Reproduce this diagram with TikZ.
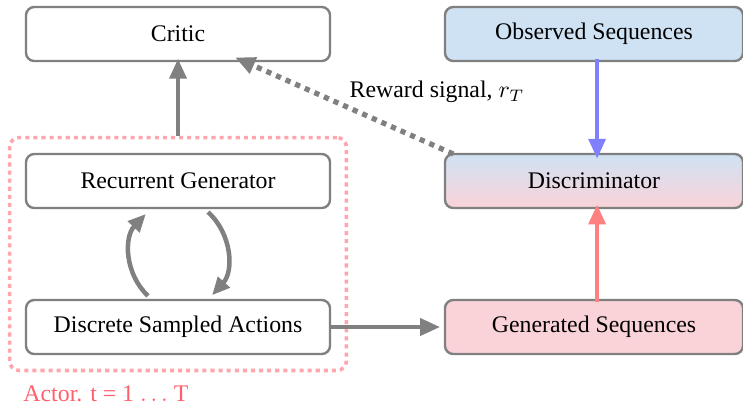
\documentclass[tikz,border=0pt]{standalone}
\usepackage{fontspec}
\setmainfont{Liberation Serif}
\usetikzlibrary{arrows.meta,fit}

\definecolor{boxgray}{RGB}{128,128,128}
\definecolor{obsblue}{RGB}{207,226,243}
\definecolor{genpink}{RGB}{250,211,216}
\definecolor{arrblue}{RGB}{128,128,255}
\definecolor{arrpink}{RGB}{255,128,128}
\definecolor{actorpink}{RGB}{255,165,172}
\definecolor{actortext}{RGB}{255,95,108}

\begin{document}
\begin{tikzpicture}[x=0.42pt,y=0.42pt,yscale=-1,xscale=1,
  blockbox/.style={draw=boxgray, line width=1pt, rounded corners=3.5pt,
    minimum width=127.7pt, minimum height=22.7pt, font=\normalsize},
  rightbox/.style={blockbox, minimum width=125.2pt},
  flowarrow/.style={line width=1.9pt, -{Triangle[length=8.4pt,width=7pt]}},
  loopflow/.style={draw=boxgray, line width=1.9pt, -{Triangle[length=7.5pt,width=6.5pt]}}]
%set diagram frame: width 743, height 404
\path[use as bounding box] (0,0) rectangle (743,404);

% Text Node
\node[blockbox] (critic) at (178,34) {Critic};
% Text Node
\node[blockbox] (recgen) at (178,181) {Recurrent Generator};
% Text Node
\node[blockbox] (actions) at (178,327) {Discrete Sampled Actions};
% Text Node
\node[rightbox, fill=obsblue] (observed) at (594,34) {Observed Sequences};
% Text Node
\node[rightbox, top color=obsblue, bottom color=genpink] (discr) at (594,181) {Discriminator};
% Text Node
\node[rightbox, fill=genpink] (generated) at (594,327) {Generated Sequences};

%Shape: Dotted actor frame
\node[draw=actorpink, line width=1.5pt, dash pattern=on 1.7pt off 1.7pt,
  rounded corners=4pt, inner sep=6.4pt, fit=(recgen)(actions)] (actor) {};
% Text Node
\node[anchor=north west, text=actortext, inner sep=0pt] (actorlbl) at (23,385) {Actor. t = 1 $\ldots$ T};
% Text Node
\node (reward) at (437,92) {Reward signal, $r_T$};

%Straight Lines
\draw[flowarrow, draw=boxgray] (actor.north) -- ([yshift=-1.5pt]critic.south);
\draw[flowarrow, draw=boxgray] (actions.east) -- ([xshift=-1.5pt]generated.west);
\draw[flowarrow, draw=arrblue] ([xshift=1.3pt,yshift=-1.5pt]observed.south) -- ([xshift=1.3pt,yshift=2.5pt]discr.north);
\draw[flowarrow, draw=arrpink] ([xshift=1.3pt,yshift=1.5pt]generated.north) -- ([xshift=1.3pt,yshift=-2pt]discr.south);
\draw[boxgray, line width=2.2pt, dash pattern=on 2.2pt off 2.2pt,
  -{Triangle[length=8.4pt,width=7pt]}] ([xshift=4pt,yshift=0.5pt]discr.north west) -- ([xshift=24pt,yshift=-2pt]critic.south);

%Curves
\draw[loopflow] ([xshift=-12.6pt,yshift=-1.2pt]actions.north) to[bend right=45] ([xshift=-13.5pt,yshift=2pt]recgen.south);
\draw[loopflow] ([xshift=12.6pt,yshift=1.2pt]recgen.south) to[bend right=45] ([xshift=14.3pt,yshift=-1.5pt]actions.north);

\end{tikzpicture}
\end{document}
